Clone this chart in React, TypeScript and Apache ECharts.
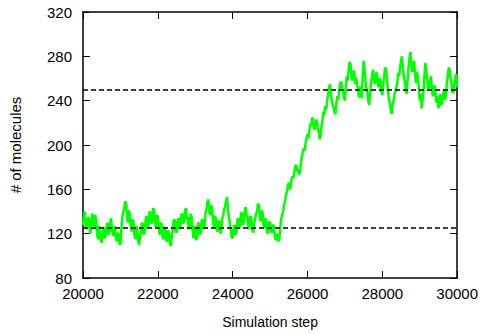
import React, { useEffect, useRef } from "react";
import * as echarts from "echarts";

const stepStart = 20000;
const stepSize = 25;

const molecules: number[] = [
  128,136,140,129,124,131,135,126,120,132,138,130,126,137,133,121,115,127,122,114,112,120,126,116,118,125,130,119,121,130,134,124,118,123,127,117,113,121,119,111,
  110,124,135,140,142,149,148,136,130,141,138,127,122,133,130,119,115,127,124,113,110,118,121,130,128,119,122,133,136,125,128,140,139,129,131,143,141,130,126,137,
  135,126,119,130,128,117,115,126,125,114,113,123,120,111,109,118,124,133,132,122,121,131,134,124,126,137,138,129,131,141,143,133,135,124,127,138,136,125,116,127,
  124,114,118,130,129,119,121,132,133,124,127,139,142,148,151,140,137,146,143,131,126,136,134,123,122,132,130,120,124,134,137,142,145,150,153,141,136,128,124,116,
  117,124,128,119,121,132,134,125,128,139,138,128,131,141,144,136,135,124,127,136,134,123,121,129,133,138,140,147,146,135,131,141,139,128,125,134,132,120,122,131,
  130,122,121,128,127,118,114,120,118,113,116,126,134,137,140,146,149,155,158,163,166,160,162,169,172,170,176,181,182,176,178,173,176,184,190,194,197,195,202,206,
  210,206,213,219,218,225,222,215,214,223,221,216,212,205,209,217,222,230,227,235,232,240,245,251,255,246,240,236,234,229,228,238,244,241,250,256,257,252,249,243,
  240,252,262,258,268,275,273,262,258,267,266,255,261,254,252,243,247,253,242,262,276,268,258,250,248,240,236,247,257,262,268,259,255,263,266,257,252,260,258,249,
  245,255,262,270,268,258,250,242,238,232,228,236,240,246,248,252,256,265,262,270,276,280,270,262,258,250,246,258,270,278,284,274,266,272,276,264,256,266,262,252,
  240,246,233,240,248,262,274,266,258,250,252,258,262,251,244,250,254,245,238,244,233,240,246,236,238,245,250,241,244,256,262,270,268,259,256,247,248,255,260,264,
  252,
];

const referenceLevels: number[] = [125, 250];

const xMin = 20000;
const xMax = 30000;
const xInterval = 2000;
const yMin = 80;
const yMax = 320;
const yInterval = 40;

const font = "Liberation Sans, Arial, sans-serif";

export default function App() {
  const ref = useRef<HTMLDivElement>(null);
  useEffect(() => {
    if (!ref.current) return;
    const chart = echarts.init(ref.current, undefined, { renderer: "svg" });
    const data = molecules.map((v, i) => [stepStart + i * stepSize, v]);
    const axisCommon = {
      axisLine: { show: true, onZero: false, lineStyle: { color: "#000", width: 1.5 } },
      axisTick: { show: true, inside: true, length: 7, lineStyle: { color: "#000", width: 1 } },
      splitLine: { show: false },
    };
    const plain = (v: number) => String(v);
    chart.setOption({
      animation: false,
      backgroundColor: "#fff",
      grid: { left: 79, right: 23, top: 12, bottom: 52 },
      xAxis: [
        {
          type: "value",
          min: xMin,
          max: xMax,
          interval: xInterval,
          position: "bottom",
          name: "Simulation step",
          nameLocation: "middle",
          nameGap: 37,
          nameTextStyle: { fontFamily: font, fontSize: 14, color: "#000" },
          axisLabel: { margin: 8, fontFamily: font, fontSize: 15, color: "#000", formatter: plain },
          ...axisCommon,
        },
        {
          type: "value",
          min: xMin,
          max: xMax,
          interval: xInterval,
          position: "top",
          axisLabel: { show: false },
          ...axisCommon,
        },
      ],
      yAxis: [
        {
          type: "value",
          min: yMin,
          max: yMax,
          interval: yInterval,
          position: "left",
          name: "# of molecules",
          nameLocation: "middle",
          nameGap: 60,
          nameTextStyle: { fontFamily: font, fontSize: 15, color: "#000" },
          axisLabel: { margin: 11, fontFamily: font, fontSize: 15, color: "#000", formatter: plain },
          ...axisCommon,
        },
        {
          type: "value",
          min: yMin,
          max: yMax,
          interval: yInterval,
          position: "right",
          axisLabel: { show: false },
          ...axisCommon,
        },
      ],
      series: [
        {
          type: "line",
          data,
          showSymbol: false,
          symbol: "none",
          lineStyle: { color: "#00ff00", width: 2.5 },
          z: 2,
        },
        {
          type: "line",
          data: [],
          z: 3,
          markLine: {
            silent: true,
            symbol: "none",
            label: { show: false },
            lineStyle: { color: "#000", type: [5, 3], width: 1.5 },
            data: referenceLevels.map((v) => ({ yAxis: v })),
          },
        },
      ],
    });
    return () => chart.dispose();
  }, []);
  return (
    <div
      ref={ref}
      style={{ position: "fixed", left: 0, top: 0, width: 481, height: 334 }}
    />
  );
}
